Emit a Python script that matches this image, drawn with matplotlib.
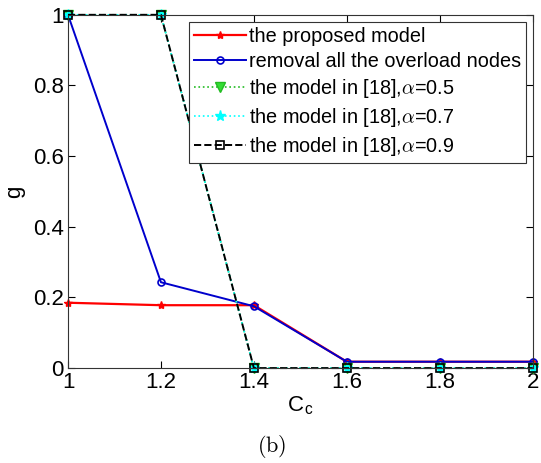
import matplotlib
matplotlib.use("Agg")
import matplotlib.pyplot as plt
from matplotlib.ticker import FormatStrFormatter

plt.rcParams['font.family'] = ['Liberation Sans', 'DejaVu Sans']
plt.rcParams['mathtext.fontset'] = 'cm'

cc = [1.0, 1.2, 1.4, 1.6, 1.8, 2.0]
g_proposed = [0.185, 0.178, 0.178, 0.018, 0.018, 0.018]
g_removal = [1.0, 0.243, 0.175, 0.018, 0.018, 0.018]
g_a05 = [1.0, 1.0, 0.0, 0.0, 0.0, 0.0]
g_a07 = [1.0, 1.0, 0.0, 0.0, 0.0, 0.0]
g_a09 = [1.0, 1.0, 0.0, 0.0, 0.0, 0.0]

fig = plt.figure(figsize=(5.41, 4.63), dpi=100)
ax = fig.add_axes([0.1257, 0.205, 0.859, 0.763])

ax.plot(cc, g_proposed, '-', color='red', marker='*', ms=6, lw=1.6,
        label='the proposed model', clip_on=False)
ax.plot(cc, g_removal, '-', color='#0000cc', marker='o', ms=5, mfc='none',
        mew=1.2, lw=1.4, label='removal all the overload nodes', clip_on=False)
ax.plot(cc, g_a05, ':', color='#22bb22', marker='v', ms=7, mfc='#33dd33',
        mec='#22bb22', lw=1.2, label=r'the model in [18],$\alpha$=0.5', clip_on=False)
ax.plot(cc, g_a07, ':', color='cyan', marker='*', ms=8, mfc='cyan',
        mec='cyan', lw=1.2, label=r'the model in [18],$\alpha$=0.7', clip_on=False)
ax.plot(cc, g_a09, '--', color='black', marker='s', ms=6, mfc='none',
        mew=1.2, lw=1.4, label=r'the model in [18],$\alpha$=0.9', clip_on=False)

ax.set_xlim(1, 2)
ax.set_ylim(0, 1)
ax.set_xticks(cc)
ax.set_yticks([0, 0.2, 0.4, 0.6, 0.8, 1.0])
ax.xaxis.set_major_formatter(FormatStrFormatter('%g'))
ax.yaxis.set_major_formatter(FormatStrFormatter('%g'))
ax.tick_params(direction='in', top=True, right=True, labelsize=16, length=5, pad=3)
for s in ax.spines.values():
    s.set_color('#333333')
    s.set_linewidth(0.8)

ax.set_xlabel(r'C$_\mathregular{c}$', fontsize=16, labelpad=1)
ax.set_ylabel('g', fontsize=16, labelpad=6)

leg = ax.legend(loc='upper right', bbox_to_anchor=(0.985, 0.98), fontsize=14.3,
                frameon=True, fancybox=False, framealpha=1, edgecolor='#333333',
                handlelength=2.6, handletextpad=0.15, borderpad=0.25,
                labelspacing=0.3, borderaxespad=0)
leg.get_frame().set_linewidth(0.8)

fig.text(0.503, 0.035, r'$\mathrm{(b)}$', ha='center', va='center', fontsize=16)

fig.savefig('out.png', dpi=100)
